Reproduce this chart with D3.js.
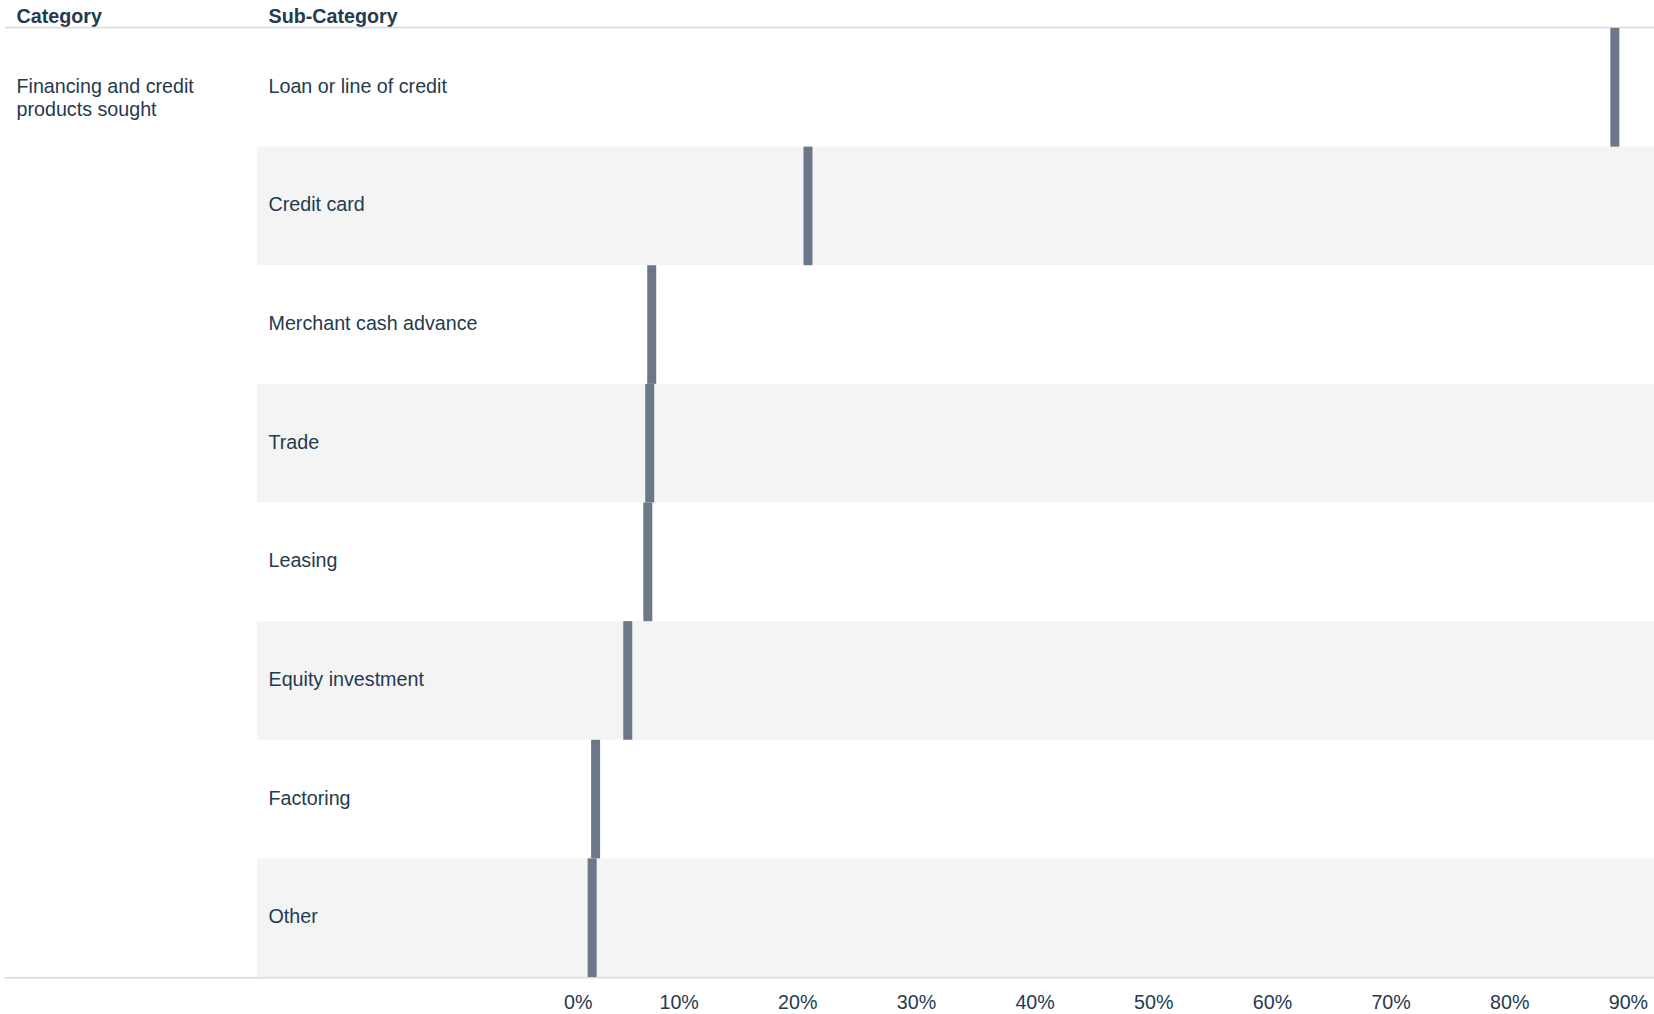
<!DOCTYPE html>
<html>
<head>
<meta charset="utf-8">
<script src="https://cdn.jsdelivr.net/npm/d3@7"></script>
<style>
  html, body { margin: 0; padding: 0; background: #ffffff; }
  svg { display: block; font-family: "Liberation Sans", Arial, sans-serif; }
</style>
</head>
<body>
<svg id="chart" width="1654" height="1014"></svg>
<script>
// ---- data ----
const categoryName = "Financing and credit products sought";
const categoryLines = ["Financing and credit", "products sought"];
const subCategories = [
  "Loan or line of credit",
  "Credit card",
  "Merchant cash advance",
  "Trade",
  "Leasing",
  "Equity investment",
  "Factoring",
  "Other"
];
const shareValues = [0.889, 0.209, 0.0773, 0.0756, 0.0740, 0.0571, 0.0300, 0.0271];
const tickValues = [0, 0.1, 0.2, 0.3, 0.4, 0.5, 0.6, 0.7, 0.8, 0.9];
const headerLabels = ["Category", "Sub-Category"];

// ---- layout ----
const plotTop = 28, plotBottom = 977;
const paneLeft = 257, axisLeft = 560, plotRight = 1654;
const textColor = "#243a4f";
const barColor = "#6c7889";
const bandColor = "#f4f4f4";
const ruleColor = "#d3dce4";
const fontSize = 19.7;

const svg = d3.select("#chart");

const y = d3.scaleBand().domain(subCategories).range([plotTop, plotBottom]).padding(0);
const x = d3.scaleLinear().domain([0, 0.922]).range([axisLeft, plotRight]);

// alternating row bands
svg.append("g").selectAll("rect")
  .data(subCategories)
  .join("rect")
  .attr("x", paneLeft)
  .attr("y", d => y(d))
  .attr("width", plotRight - paneLeft)
  .attr("height", y.bandwidth())
  .attr("fill", (d, i) => i % 2 === 1 ? bandColor : "#ffffff");

// header
svg.append("g").selectAll("text")
  .data(headerLabels)
  .join("text")
  .attr("x", (d, i) => i === 0 ? 16.5 : 268.5)
  .attr("y", 23)
  .attr("font-size", fontSize)
  .attr("font-weight", "bold")
  .attr("fill", textColor)
  .text(d => d);

svg.append("line")
  .attr("x1", 5).attr("x2", plotRight)
  .attr("y1", 27.5).attr("y2", 27.5)
  .attr("stroke", ruleColor).attr("stroke-width", 1.6);

// category label
svg.append("text")
  .attr("x", 16.5)
  .attr("y", 92.5)
  .attr("font-size", fontSize)
  .attr("fill", textColor)
  .selectAll("tspan")
  .data(categoryLines)
  .join("tspan")
  .attr("x", 16.5)
  .attr("dy", (d, i) => i === 0 ? 0 : 23)
  .text(d => d);

// sub-category labels
svg.append("g").selectAll("text")
  .data(subCategories)
  .join("text")
  .attr("x", 268.5)
  .attr("y", d => y(d) + y.bandwidth() / 2 + 5.5)
  .attr("font-size", fontSize)
  .attr("fill", textColor)
  .text(d => d);

// bars (gantt-style thin markers)
const barW = 9;
svg.append("g").selectAll("rect")
  .data(subCategories.map((s, i) => ({ s, v: shareValues[i] })))
  .join("rect")
  .attr("x", d => x(d.v) - barW / 2)
  .attr("y", d => y(d.s))
  .attr("width", barW)
  .attr("height", y.bandwidth())
  .attr("fill", barColor);

// bottom rule
svg.append("line")
  .attr("x1", 4).attr("x2", plotRight)
  .attr("y1", 977.8).attr("y2", 977.8)
  .attr("stroke", ruleColor).attr("stroke-width", 1.6);

// x axis
const axis = d3.axisBottom(x)
  .tickValues(tickValues)
  .tickFormat(d3.format(".0%"))
  .tickSize(0)
  .tickPadding(0);

const gAxis = svg.append("g")
  .attr("transform", `translate(0, ${plotBottom})`)
  .call(axis);
gAxis.select(".domain").remove();
gAxis.selectAll("text")
  .attr("font-size", fontSize)
  .attr("font-family", "'Liberation Sans', Arial, sans-serif")
  .attr("fill", textColor)
  .attr("dy", null)
  .attr("y", 31.5);
// first label is kept inside the axis area (as the source tool does)
gAxis.selectAll(".tick").filter(d => d === 0).select("text")
  .attr("text-anchor", "start")
  .attr("x", 3.5);
</script>
</body>
</html>
